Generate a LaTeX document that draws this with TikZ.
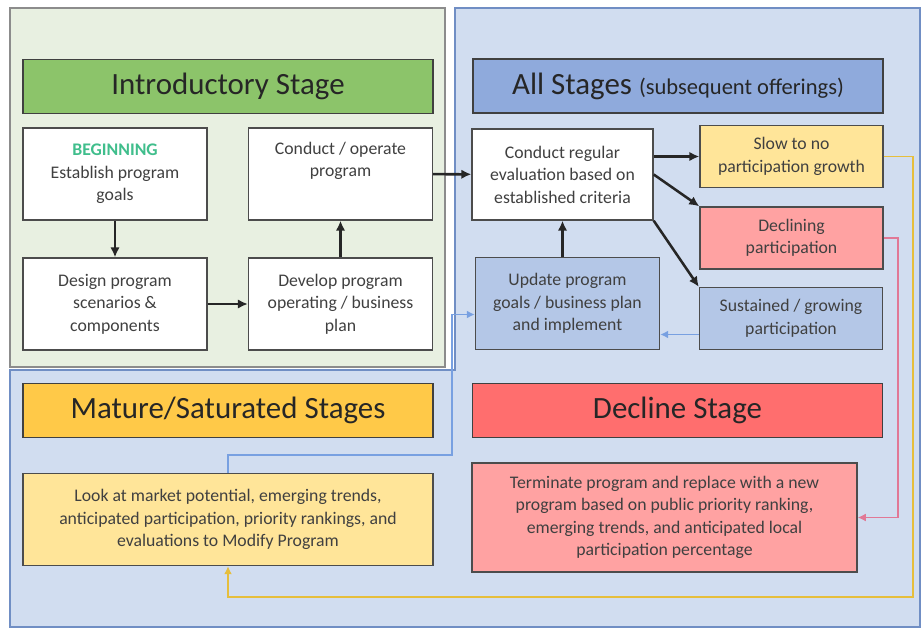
\documentclass[tikz,border=0pt]{standalone}
\usepackage{fontspec}
\setmainfont{Carlito}
\usepackage{xcolor}
\definecolor{PanelGreen}{RGB}{232,240,225}
\definecolor{PanelBlue}{RGB}{209,221,240}
\definecolor{PanelBlueLine}{RGB}{112,142,196}
\definecolor{TitleGreen}{RGB}{140,196,106}
\definecolor{TitleBlue}{RGB}{143,170,220}
\definecolor{TitleGold}{RGB}{255,201,72}
\definecolor{TitleRed}{RGB}{255,110,110}
\definecolor{PaleGold}{RGB}{255,229,153}
\definecolor{PaleRed}{RGB}{255,162,162}
\definecolor{PaleBlue}{RGB}{180,199,231}
\definecolor{LineGold}{RGB}{230,190,60}
\definecolor{LinePink}{RGB}{225,120,150}
\definecolor{LineBlue}{RGB}{120,160,225}
\definecolor{StartGreen}{RGB}{64,190,140}
\definecolor{TextGray}{RGB}{64,64,64}
\usetikzlibrary{arrows.meta,positioning,calc}

\begin{document}
\begin{tikzpicture}[x=0.025cm,y=-0.025cm,
  font=\fontsize{12.6}{16}\selectfont,
  stagebar/.style={draw=black!75,line width=1pt,minimum width=10.25cm,minimum height=1.35cm,
    inner sep=0pt,text=black!85,font=\fontsize{22}{26}\selectfont},
  stepbox/.style={draw=black!70,line width=1pt,fill=white,align=center,text=TextGray,
    minimum width=4.6cm,minimum height=2.3cm,inner sep=2pt},
  outcome/.style={stepbox,minimum width=4.575cm,minimum height=1.55cm},
  arrow/.style={-{Latex[length=2.5mm,width=2.4mm]},line width=1.8pt,black!85},
  link/.style={-{Latex[length=2mm,width=2mm]},line width=1.1pt}
]
\useasboundingbox (0,0) rectangle (921,629);
\filldraw[fill=PanelBlue,draw=PanelBlueLine,line width=0.8pt]
  (455,8) -- (920,8) -- (920,627) -- (10,627) -- (10,370) -- (455,370) -- cycle;
\filldraw[fill=PanelGreen,draw=black!45,line width=0.8pt] (10,8) rectangle (445,367);

\node[stagebar,fill=TitleGreen] (intro) at (228,86.5) {Introductory Stage};
\node[stagebar,fill=TitleBlue] (all) at (678,86) {All Stages {\fontsize{16}{18}\selectfont(subsequent offerings)}};
\node[stagebar,fill=TitleGold] (mature) at (228,410.5) {Mature/Saturated Stages};
\node[stagebar,fill=TitleRed] (decline) at (677.5,410.5) {Decline Stage};

\node[stepbox] (goals) at (115,174) {{\color{StartGreen}\bfseries BEGINNING}\\Establish program\\goals};
\node[stepbox] (operate) at (340.5,174) {Conduct / operate\\program\\\strut};
\node[stepbox] (design) at (115,304) {Design program\\scenarios \&\\components};
\node[stepbox] (develop) at (340.5,304) {Develop program\\operating / business\\plan};
\node[stepbox,minimum width=4.525cm,minimum height=2.275cm] (evaluate) at (562.5,174.5)
  {Conduct regular\\evaluation based on\\established criteria};
\node[outcome,fill=PaleGold] (slow) at (791.5,156.5) {Slow to no\\participation growth};
\node[outcome,fill=PaleRed] (declining) at (791.5,238) {Declining\\participation};
\node[outcome,fill=PaleBlue] (sustained) at (791,318.5) {Sustained / growing\\participation};
\node[stepbox,fill=PaleBlue] (update) at (567.5,303.5) {Update program\\goals / business plan\\and implement};
\node[stepbox,fill=PaleGold,minimum width=10.25cm] (modify) at (228,519.5)
  {Look at market potential, emerging trends,\\anticipated participation, priority rankings, and\\evaluations to Modify Program};
\node[stepbox,fill=PaleRed,minimum width=9.625cm,minimum height=2.725cm] (terminate) at (664.5,517.5)
  {Terminate program and replace with a new\\program based on public priority ranking,\\emerging trends, and anticipated local\\participation percentage};

\draw[arrow] (goals) -- (design);
\draw[arrow] (design) -- (develop);
\draw[arrow] (develop) -- (operate);
\draw[arrow] (operate) -- (evaluate);
\draw[arrow] (evaluate.east |- slow) -- (slow);
\draw[arrow] (evaluate.east) -- (declining.north west);
\draw[arrow] (evaluate.south east) -- (sustained.north west);
\draw[arrow] (update.north -| evaluate) -- (evaluate.south);
\draw[link,LineBlue] ($(sustained.west)+(0,16)$) coordinate (back) -- (back -| update.east);
\draw[link,LineBlue] (modify.north) |- (452,455) |- ($(update.west)+(0,11)$);
\draw[link,LineGold] (slow.east) -| (913,597) -| (modify.south);
\draw[link,LinePink] (declining.east) -| ($(terminate.east)+(40,0)$) -- (terminate.east);
\end{tikzpicture}
\end{document}
